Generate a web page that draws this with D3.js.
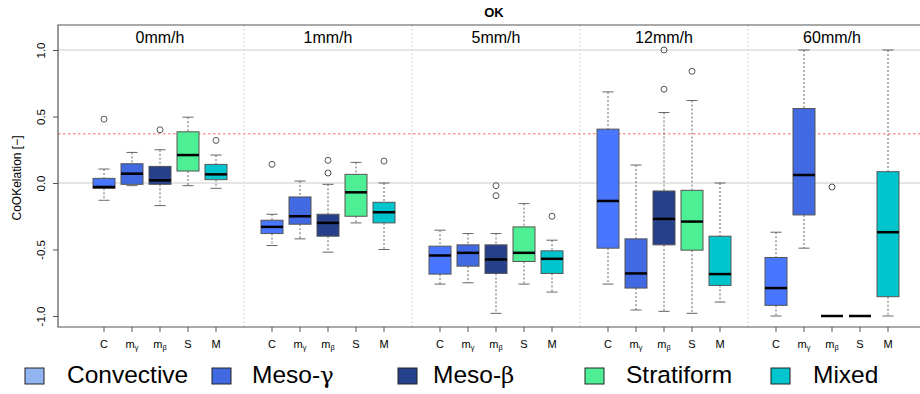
<!DOCTYPE html>
<html>
<head>
<meta charset="utf-8">
<script src="https://cdn.jsdelivr.net/npm/d3@7/dist/d3.min.js"></script>
<style>
  html, body { margin: 0; padding: 0; background: #fff; }
  svg { display: block; font-family: "Liberation Sans", Arial, sans-serif; }
</style>
</head>
<body>
<svg id="chart" width="920" height="394"></svg>
<script>
// Rain-rate panels and cloud classes
const rates = ["0mm/h", "1mm/h", "5mm/h", "12mm/h", "60mm/h"];
const classes = ["Convective", "Meso-γ", "Meso-β", "Stratiform", "Mixed"];
const tickBase = ["C", "m", "m", "S", "M"];
const tickSub = ["", "γ", "β", "", ""];
const classColors = ["#4876ff", "#4169e1", "#27408b", "#4eee94", "#00c5cd"];
const legendColors = ["#92b4f0", "#4169e1", "#27408b", "#4eee94", "#00c5cd"];
const yTicks = [-1, -0.5, 0, 0.5, 1];
const refLevel = 0.37;

// Box statistics, indexed [rate][class]
const lowerWhisker = [
  [-0.13, -0.02, -0.17, -0.02, -0.04],
  [-0.47, -0.42, -0.52, -0.30, -0.50],
  [-0.76, -0.75, -0.98, -0.76, -0.82],
  [-0.76, -0.955, -0.965, -0.98, -0.895],
  [-1.0, -0.49, -1.0, -1.0, -1.0]
];
const lowerHinge = [
  [-0.04, -0.01, -0.01, 0.09, 0.025],
  [-0.38, -0.31, -0.40, -0.25, -0.30],
  [-0.685, -0.625, -0.68, -0.59, -0.68],
  [-0.49, -0.79, -0.465, -0.505, -0.77],
  [-0.92, -0.24, -1.0, -1.0, -0.855]
];
const median = [
  [-0.03, 0.07, 0.02, 0.21, 0.065],
  [-0.33, -0.25, -0.30, -0.07, -0.22],
  [-0.545, -0.525, -0.575, -0.525, -0.57],
  [-0.135, -0.68, -0.27, -0.29, -0.685],
  [-0.79, 0.06, -1.0, -1.0, -0.37]
];
const upperHinge = [
  [0.035, 0.145, 0.125, 0.385, 0.14],
  [-0.28, -0.105, -0.235, 0.065, -0.145],
  [-0.475, -0.465, -0.465, -0.33, -0.51],
  [0.405, -0.42, -0.06, -0.055, -0.40],
  [-0.56, 0.56, -1.0, -1.0, 0.085]
];
const upperWhisker = [
  [0.105, 0.23, 0.25, 0.495, 0.21],
  [-0.235, 0.015, -0.01, 0.155, 0.0],
  [-0.355, -0.38, -0.38, -0.155, -0.43],
  [0.685, 0.135, 0.53, 0.62, 0.0],
  [-0.37, 1.0, -1.0, -1.0, 1.0]
];
const outliers = [
  [[0.48], [], [0.40], [], [0.32]],
  [[0.14], [], [0.17, 0.075], [], [0.165]],
  [[], [], [-0.02, -0.095], [], [-0.25]],
  [[], [], [1.0, 0.705], [0.84], []],
  [[], [], [-0.03], [], []]
];

const svg = d3.select("#chart");

const frame = { left: 58, top: 25, bottom: 327, right: 920 };
const y = d3.scaleLinear().domain([-1, 1]).range([316, 50]);
const panel = d3.scaleBand().domain(rates).range([76, 916]);
const inner = d3.scalePoint().domain(classes).range([28, 140]);
const xPos = (r, c) => panel(rates[r]) + inner(classes[c]);

const boxW = 22, capW = 11;

// horizontal reference grid
svg.append("g").selectAll("line").data([0, 1]).join("line")
  .attr("x1", frame.left).attr("x2", frame.right)
  .attr("y1", d => y(d)).attr("y2", d => y(d))
  .attr("stroke", "#dcdcdc").attr("stroke-width", 1.5);

// dotted panel separators
svg.append("g").selectAll("line").data(rates.slice(1)).join("line")
  .attr("x1", d => panel(d)).attr("x2", d => panel(d))
  .attr("y1", frame.top).attr("y2", frame.bottom)
  .attr("stroke", "#dddddd").attr("stroke-width", 1.2)
  .attr("stroke-dasharray", "2,2");

// threshold line
svg.append("line")
  .attr("x1", frame.left).attr("x2", frame.right)
  .attr("y1", y(refLevel)).attr("y2", y(refLevel))
  .attr("stroke", "#ff9a9a").attr("stroke-width", 1.5)
  .attr("stroke-dasharray", "2.5,2.5");

// panel titles
svg.append("g").selectAll("text").data(rates).join("text")
  .attr("x", d => panel(d) + inner(classes[2]))
  .attr("y", 43)
  .attr("text-anchor", "middle")
  .attr("font-size", 16)
  .attr("fill", "#000")
  .text(d => d);

// boxes
const items = [];
rates.forEach((r, ri) => classes.forEach((c, ci) => items.push({ ri, ci })));

const boxes = svg.append("g").selectAll("g").data(items).join("g")
  .attr("transform", d => `translate(${xPos(d.ri, d.ci)},0)`);

// whiskers
boxes.append("line")
  .attr("y1", d => y(upperWhisker[d.ri][d.ci])).attr("y2", d => y(upperHinge[d.ri][d.ci]))
  .attr("stroke", "#666").attr("stroke-dasharray", "2,2").attr("stroke-width", 1);
boxes.append("line")
  .attr("y1", d => y(lowerHinge[d.ri][d.ci])).attr("y2", d => y(lowerWhisker[d.ri][d.ci]))
  .attr("stroke", "#666").attr("stroke-dasharray", "2,2").attr("stroke-width", 1);
// whisker caps
boxes.append("line")
  .attr("x1", -capW / 2).attr("x2", capW / 2)
  .attr("y1", d => y(upperWhisker[d.ri][d.ci])).attr("y2", d => y(upperWhisker[d.ri][d.ci]))
  .attr("stroke", "#666").attr("stroke-width", 1);
boxes.append("line")
  .attr("x1", -capW / 2).attr("x2", capW / 2)
  .attr("y1", d => y(lowerWhisker[d.ri][d.ci])).attr("y2", d => y(lowerWhisker[d.ri][d.ci]))
  .attr("stroke", "#666").attr("stroke-width", 1);
// box body
boxes.append("rect")
  .attr("x", -boxW / 2).attr("width", boxW)
  .attr("y", d => y(upperHinge[d.ri][d.ci]))
  .attr("height", d => y(lowerHinge[d.ri][d.ci]) - y(upperHinge[d.ri][d.ci]))
  .attr("fill", d => classColors[d.ci])
  .attr("stroke", "#555").attr("stroke-width", 1);
// median
boxes.append("line")
  .attr("x1", -boxW / 2).attr("x2", boxW / 2)
  .attr("y1", d => y(median[d.ri][d.ci])).attr("y2", d => y(median[d.ri][d.ci]))
  .attr("stroke", "#000").attr("stroke-width", 2.5);
// outliers
boxes.selectAll("circle").data(d => outliers[d.ri][d.ci]).join("circle")
  .attr("cx", 0).attr("cy", v => y(v)).attr("r", 3)
  .attr("fill", "none").attr("stroke", "#555").attr("stroke-width", 1);

// frame
svg.append("path")
  .attr("d", `M${frame.right},${frame.top}H${frame.left}V${frame.bottom}H${frame.right}`)
  .attr("fill", "none").attr("stroke", "#555").attr("stroke-width", 1.2);

// y axis
const yAxis = svg.append("g")
  .attr("transform", `translate(${frame.left},0)`)
  .call(d3.axisLeft(y).tickValues(yTicks).tickSize(5).tickFormat(d3.format(".1f")));
yAxis.select(".domain").remove();
yAxis.selectAll(".tick line").attr("stroke", "#555");
yAxis.selectAll(".tick text")
  .attr("font-size", 11.5).attr("font-family", "Liberation Sans, Arial, sans-serif")
  .attr("fill", "#000")
  .attr("transform", "rotate(-90)")
  .attr("x", 0).attr("dy", 0)
  .attr("y", -13.5)
  .attr("text-anchor", "middle")
  .text(d => d3.format(".1f")(d).replace("−", "-"));

svg.append("text")
  .attr("transform", "translate(21,178) rotate(-90)")
  .attr("text-anchor", "middle")
  .attr("font-size", 12)
  .text("CoOKelation [−]");

// x ticks and labels
const xt = svg.append("g").selectAll("g").data(items).join("g")
  .attr("transform", d => `translate(${xPos(d.ri, d.ci)},${frame.bottom})`);
xt.append("line").attr("y1", 0).attr("y2", 5).attr("stroke", "#555");
const lbl = xt.append("text").attr("y", 21).attr("text-anchor", "middle").attr("font-size", 11);
lbl.append("tspan").text(d => tickBase[d.ci]);
lbl.append("tspan").attr("font-size", 7.5).attr("dy", 2).text(d => tickSub[d.ci]);

// title
svg.append("text")
  .attr("x", 494).attr("y", 17)
  .attr("text-anchor", "middle")
  .attr("font-size", 13).attr("font-weight", "bold")
  .text("OK");

// legend
const legendX = [25, 212, 398, 585, 771];
const legendTextDx = [42, 40, 35, 41, 42];
const leg = svg.append("g").selectAll("g").data(classes).join("g")
  .attr("transform", (d, i) => `translate(${legendX[i]},368)`);
leg.append("rect").attr("width", 19).attr("height", 16)
  .attr("fill", (d, i) => legendColors[i]).attr("stroke", "#222").attr("stroke-width", 1);
const lt = leg.append("text").attr("x", (d, i) => legendTextDx[i])
  .attr("y", 14.5).attr("font-size", 24.5);
lt.each(function (d) {
  const t = d3.select(this);
  const m = d.match(/^(.*?)([γβ])$/);
  if (m) {
    t.append("tspan").text(m[1]);
    t.append("tspan").attr("font-family", "DejaVu Serif, Liberation Serif, serif").attr("font-size", 23).text(m[2]);
  } else {
    t.text(d);
  }
});
</script>
</body>
</html>
